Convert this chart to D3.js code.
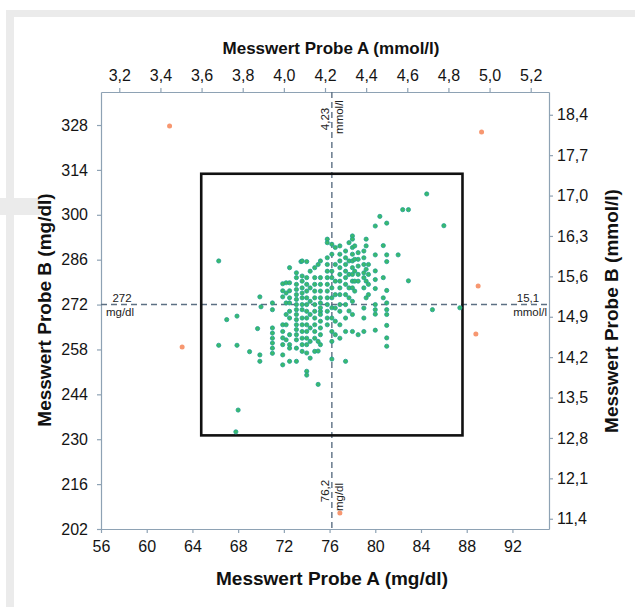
<!DOCTYPE html>
<html>
<head>
<meta charset="utf-8">
<script src="https://cdn.jsdelivr.net/npm/d3@7"></script>
<style>
  body { margin: 0; background: #fff; }
  svg { display: block; font-family: "Liberation Sans", Arial, Helvetica, sans-serif; }
  .axis path, .axis line { stroke: #8ea2b4; stroke-width: 1.2; }
  .axis text { font-size: 16px; fill: #141414; }
  .title { font-size: 17px; font-weight: bold; fill: #111; }
  .note { font-size: 11.5px; fill: #222; }
</style>
</head>
<body>
<div id="chart"></div>
<script>
// glucose: 1 mmol/l = 18 mg/dl
const mgPerMmol = 18;
const refA = 76.2, refB = 272;      // reference values (mg/dl)
const limit = 0.15;                 // +-15 % box

const xTicks = [56, 60, 64, 68, 72, 76, 80, 84, 88, 92];
const yTicks = [202, 216, 230, 244, 258, 272, 286, 300, 314, 328];
const xTicksMmol = [3.2, 3.4, 3.6, 3.8, 4.0, 4.2, 4.4, 4.6, 4.8, 5.0, 5.2];
const yTicksMmol = [11.4, 12.1, 12.8, 13.5, 14.2, 14.9, 15.6, 16.3, 17.0, 17.7, 18.4];

// points outside the box (orange)
const outlierA = [62.0, 89.3, 89.0, 88.8, 63.1, 76.9];
const outlierB = [327.7, 325.8, 277.8, 262.8, 258.8, 207.0];

// points inside the box (green), grouped by Probe A value: [A, [B values]]
const greenColumns = [
  [66.3, [285.6, 259.3]],
  [67.0, [267.3]],
  [67.8, [232.3]],
  [67.9, [268.4, 259.3]],
  [68.0, [239.1]],
  [69.0, [257.3]],
  [69.7, [264.5]],
  [69.9, [274.4, 256.3, 254.3]],
  [70.0, [271.3]],
  [71.0, [272.5, 270.4, 264.7, 263.1, 261.5, 260.0, 258.4, 256.8]],
  [71.9, [278.5, 276.3, 274.4, 265.7, 263.6, 261.6, 259.5, 256.3, 253.2]],
  [72.2, [278.8, 275.6, 272.5, 268.9, 265.7, 261.0]],
  [72.5, [283.5, 278.8, 276.3, 274.1, 272.5, 269.9, 267.8, 262.6, 259.5, 258.4, 254.3]],
  [73.1, [281.9, 280.4, 278.3, 276.7, 275.1, 273.6, 272.0, 270.4, 268.9, 267.3, 265.7, 264.2, 262.6, 261.0, 258.4, 254.3]],
  [73.5, [285.4]],
  [73.6, [285.6, 280.9, 279.3, 277.2, 275.6, 274.1, 272.0, 270.4, 267.8, 265.7, 263.6, 261.5, 259.5, 257.4]],
  [74.0, [285.4, 280.4, 278.3, 276.2, 274.1, 272.0, 269.9, 267.8, 265.7, 263.6, 261.5, 259.5, 256.9, 251.2, 250.0]],
  [74.3, [282.4, 277.2, 273.0, 268.9, 264.7, 260.5, 255.3]],
  [74.7, [283.5, 280.4, 278.3, 276.2, 274.1, 272.0, 269.9, 267.8, 265.7, 263.6, 261.5, 257.4]],
  [75.0, [284.5, 260.5, 257.5, 247.1]],
  [75.2, [285.6, 280.4, 278.3, 276.2, 274.1, 272.5, 271.0, 269.9, 268.9, 266.8, 264.7, 262.6, 259.5]],
  [75.8, [292.4, 291.3, 286.6, 284.5, 282.4, 280.4, 278.3, 276.2, 274.1, 272.0, 269.9, 267.8, 265.7]],
  [76.2, [290.8, 287.7, 282.4, 280.4, 277.2, 274.1, 271.0, 267.8, 263.6, 260.5, 255.0]],
  [76.5, [289.8, 284.5, 279.3, 275.1, 270.9, 266.8, 262.6]],
  [76.9, [290.3, 287.7, 285.6, 283.5, 281.4, 279.3, 277.2, 275.1, 272.0, 269.9, 265.7, 261.5]],
  [77.4, [288.7, 286.6, 284.5, 282.4, 280.4, 278.3, 275.1, 272.0, 267.8, 263.6, 254.3]],
  [77.7, [291.3, 285.6, 281.4, 277.2, 274.1, 270.0]],
  [78.0, [293.4, 292.4, 289.8, 287.7, 285.6, 283.5, 281.4, 279.3, 277.2, 273.0, 268.9, 263.6]],
  [78.2, [290.3, 286.1, 282.4, 279.3, 276.2]],
  [78.5, [288.2, 286.1, 284.0, 281.4, 279.3, 262.6]],
  [79.0, [288.7, 286.6, 284.5, 281.9, 280.4, 277.2, 270.9, 267.8, 263.6]],
  [79.2, [292.4, 290.3, 283.0, 279.3, 274.1]],
  [79.4, [284.5, 281.4, 278.3, 275.1]],
  [80.0, [296.5, 287.5, 282.5, 279.8, 277.0, 272.0, 270.4, 269.0, 264.0]],
  [80.4, [299.5]],
  [80.7, [290.4, 280.4, 274.1]],
  [81.0, [297.4, 287.5, 285.4, 276.4, 272.5, 270.4, 268.9, 265.5, 261.6, 259.0]],
  [82.0, [287.5]],
  [82.4, [301.6]],
  [82.9, [301.6, 279.4]],
  [84.5, [306.5]],
  [85.0, [270.4]],
  [86.0, [296.6]],
  [87.4, [271.0]]
];

const width = 635, height = 607;
const plotLeft = 101, plotRight = 549, plotTop = 92, plotBottom = 529;

const svg = d3.select("#chart").append("svg").attr("width", width).attr("height", height);

// page background bits around the figure
svg.append("rect").attr("x", 6).attr("y", 10).attr("width", width - 6).attr("height", height - 10).attr("fill", "#ebebeb");
svg.append("rect").attr("x", 14).attr("y", 17).attr("width", width - 14).attr("height", height - 17).attr("fill", "#fff");
svg.append("rect").attr("x", 0).attr("y", 198).attr("width", 40).attr("height", 17).attr("fill", "#ebebeb");

const x = d3.scaleLinear().domain([56, 95.2]).range([plotLeft, plotRight]);
const y = d3.scaleLinear().domain([202, 338.3]).range([plotBottom, plotTop]);
const xm = d3.scaleLinear().domain(x.domain().map(d => d / mgPerMmol)).range(x.range());
const ym = d3.scaleLinear().domain(y.domain().map(d => d / mgPerMmol)).range(y.range());

const comma = d => d3.format(".1f")(d).replace(".", ",");

svg.append("g").attr("class", "axis").attr("transform", `translate(0,${plotBottom})`)
  .call(d3.axisBottom(x).tickValues(xTicks).tickSize(4).tickSizeOuter(0).tickPadding(8));
svg.append("g").attr("class", "axis").attr("transform", `translate(0,${plotTop})`)
  .call(d3.axisTop(xm).tickValues(xTicksMmol).tickFormat(comma).tickSize(4).tickSizeOuter(0).tickPadding(7));
svg.append("g").attr("class", "axis").attr("transform", `translate(${plotLeft},0)`)
  .call(d3.axisLeft(y).tickValues(yTicks).tickSize(4).tickSizeOuter(0).tickPadding(9));
svg.append("g").attr("class", "axis").attr("transform", `translate(${plotRight},0)`)
  .call(d3.axisRight(ym).tickValues(yTicksMmol).tickFormat(comma).tickSize(4).tickSizeOuter(0).tickPadding(4));

// reference lines
const dash = svg.append("g").attr("stroke", "#5d7083").attr("stroke-width", 1.4).attr("stroke-dasharray", "6,4");
dash.append("line").attr("x1", plotLeft).attr("x2", plotRight).attr("y1", y(refB)).attr("y2", y(refB));
dash.append("line").attr("x1", x(refA)).attr("x2", x(refA)).attr("y1", plotTop).attr("y2", plotBottom);

// +-15 % box
svg.append("rect")
  .attr("x", x(refA * (1 - limit))).attr("y", y(refB * (1 + limit)))
  .attr("width", x(refA * (1 + limit)) - x(refA * (1 - limit)))
  .attr("height", y(refB * (1 - limit)) - y(refB * (1 + limit)))
  .attr("fill", "none").attr("stroke", "#111").attr("stroke-width", 2.6);

const greenPoints = greenColumns.flatMap(([a, bs]) => bs.map(b => ({ a, b })));
svg.append("g").selectAll("circle").data(greenPoints).join("circle")
  .attr("cx", d => x(d.a)).attr("cy", d => y(d.b)).attr("r", 2.1)
  .attr("fill", "#3cba6a").attr("stroke", "#1e9f95").attr("stroke-width", 0.8);

svg.append("g").selectAll("circle").data(outlierA).join("circle")
  .attr("cx", d => x(d)).attr("cy", (d, i) => y(outlierB[i])).attr("r", 2.5)
  .attr("fill", "#f79770");

// reference labels
const note = (tx, ty, rot, anchor, txt) => svg.append("text").attr("class", "note")
  .attr("transform", `translate(${tx},${ty}) rotate(${rot})`).attr("text-anchor", anchor).text(txt);
note(x(56) + 21, y(refB) - 3, 0, "middle", "272");
note(x(56) + 19, y(refB) + 11, 0, "middle", "mg/dl");
note(plotRight - 21, y(refB) - 3, 0, "middle", "15,1");
note(plotRight - 2, y(refB) + 11, 0, "end", "mmol/l");
note(x(refA) - 3, plotTop + 27, -90, "middle", "4,23");
note(x(refA) + 11, plotTop + 25, -90, "middle", "mmol/l");
note(x(refA) - 3, plotBottom - 38, -90, "middle", "76,2");
note(x(refA) + 11, plotBottom - 32, -90, "middle", "mg/dl");

// axis titles
svg.append("text").attr("class", "title").attr("x", 331).attr("y", 54).attr("text-anchor", "middle")
  .text("Messwert Probe A (mmol/l)");
svg.append("text").attr("class", "title").attr("x", 332).attr("y", 585).attr("text-anchor", "middle")
  .style("font-size", "19px").text("Messwert Probe A (mg/dl)");
svg.append("text").attr("class", "title").attr("transform", "translate(51,310) rotate(-90)")
  .attr("text-anchor", "middle").style("font-size", "19px").text("Messwert Probe B (mg/dl)");
svg.append("text").attr("class", "title").attr("transform", "translate(618,311) rotate(-90)")
  .attr("text-anchor", "middle").style("font-size", "19px").text("Messwert Probe B (mmol/l)");
</script>
</body>
</html>
